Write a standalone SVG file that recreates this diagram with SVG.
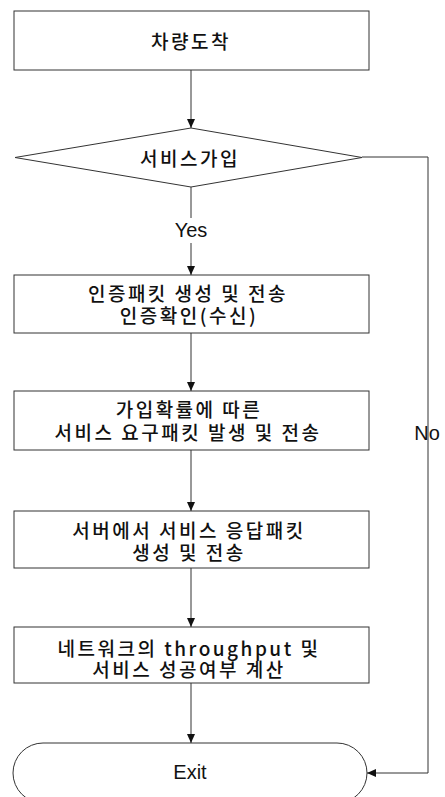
<svg xmlns="http://www.w3.org/2000/svg" width="445" height="797" viewBox="0 0 445 797">
<style>
.box{fill:#fff;stroke:#333;stroke-width:1}
.ln{fill:none;stroke:#333;stroke-width:1}
.kr{font-family:"Noto Sans CJK KR","Noto Sans",sans-serif;font-size:19px;font-weight:500;letter-spacing:2.5px;fill:#111;text-anchor:middle;dominant-baseline:central}
.en{font-family:"Liberation Sans",Arial,sans-serif;font-size:20px;fill:#111;text-anchor:middle;dominant-baseline:central}
</style>
<defs>
<marker id="ah" markerWidth="10" markerHeight="10" refX="9" refY="5" orient="auto" markerUnits="userSpaceOnUse">
<path d="M0,1 L9,5 L0,9 Z" fill="#111"/>
</marker>
</defs>
<rect width="445" height="797" fill="#fff"/>
<g id="connectors">
<line class="ln" x1="191" y1="70" x2="191" y2="128" marker-end="url(#ah)"/>
<line class="ln" x1="191" y1="187" x2="191" y2="218"/>
<line class="ln" x1="191" y1="243" x2="191" y2="275" marker-end="url(#ah)"/>
<line class="ln" x1="191" y1="333" x2="191" y2="391" marker-end="url(#ah)"/>
<line class="ln" x1="191" y1="450" x2="191" y2="511" marker-end="url(#ah)"/>
<line class="ln" x1="191" y1="568" x2="191" y2="627" marker-end="url(#ah)"/>
<line class="ln" x1="191" y1="683" x2="191" y2="743" marker-end="url(#ah)"/>
<polyline class="ln" points="362,157 428,157 428,773 367,773" marker-end="url(#ah)"/>
<text class="en" x="191" y="230">Yes</text>
<text class="en" x="427" y="433">No</text>
</g>
<g id="n1">
<rect class="box" x="14" y="11" width="355" height="59"/>
<text class="kr" x="191" y="40">차량도착</text>
</g>
<g id="n2">
<polygon class="box" points="191,128 362,157.5 191,187 15,157.5"/>
<text class="kr" x="190" y="157">서비스가입</text>
</g>
<g id="n3">
<rect class="box" x="14" y="275" width="355" height="58"/>
<text class="kr"><tspan x="188" y="292">인증패킷 생성 및 전송</tspan><tspan x="189" y="314">인증확인(수신)</tspan></text>
</g>
<g id="n4">
<rect class="box" x="14" y="391" width="355" height="59"/>
<text class="kr"><tspan x="189" y="408">가입확률에 따른</tspan><tspan x="188" y="431">서비스 요구패킷 발생 및 전송</tspan></text>
</g>
<g id="n5">
<rect class="box" x="14" y="511" width="355" height="57"/>
<text class="kr"><tspan x="189" y="529">서버에서 서비스 응답패킷</tspan><tspan x="189" y="551">생성 및 전송</tspan></text>
</g>
<g id="n6">
<rect class="box" x="14" y="627" width="355" height="56"/>
<text class="kr"><tspan x="189" y="647">네트워크의 throughput 및</tspan><tspan x="189" y="668">서비스 성공여부 계산</tspan></text>
</g>
<g id="n7">
<rect class="box" x="13" y="743" width="354" height="60" rx="30" ry="30"/>
<text class="en" x="190" y="772">Exit</text>
</g>
</svg>
